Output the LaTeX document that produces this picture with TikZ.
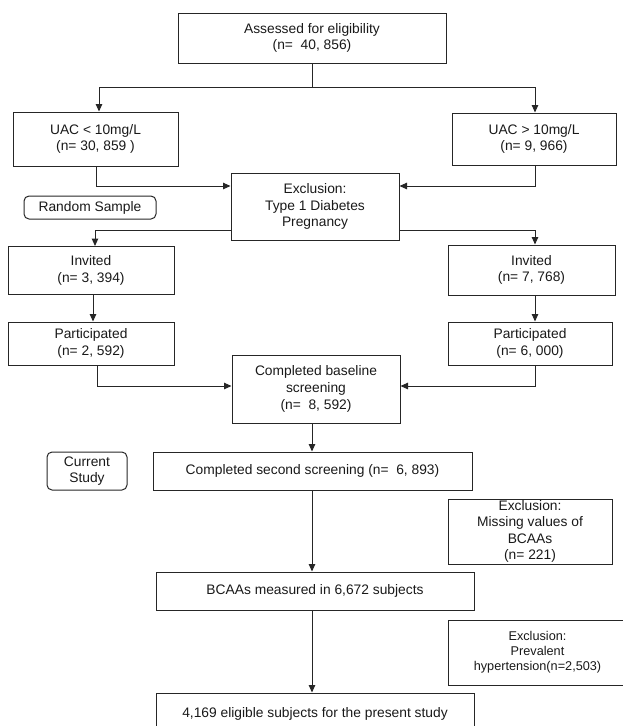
\documentclass[tikz,border=0pt]{standalone}
\usepackage{fontspec}
\setmainfont{Liberation Sans}
\usetikzlibrary{arrows.meta,calc}
\begin{document}
\begin{tikzpicture}[x=1pt,y=-1pt,
  box/.style={draw=black!85, line width=1pt, rectangle, inner sep=0pt, align=center,
    text=black!90, font=\fontsize{13.8}{16.6}\selectfont},
  rbox/.style={box, rounded corners=5pt},
  smallbox/.style={box, font=\fontsize{12.7}{15}\selectfont},
  ln/.style={draw=black!85, line width=1pt},
  arr/.style={ln, -{Triangle[length=7.5pt,width=6.5pt]}}]
\useasboundingbox (0,0) rectangle (622,726);

% boxes
\node[box, minimum width=268pt, minimum height=50pt] (top) at (312,38) {Assessed for eligibility\\(n=\ \ 40, 856)};
\node[box, minimum width=165pt, minimum height=54pt] (uacL) at (95.5,139) {UAC < 10mg/L\\(n= 30, 859 )};
\node[box, minimum width=164pt, minimum height=52pt] (uacR) at (534,139) {UAC > 10mg/L\\(n= 9, 966)};
\node[box, minimum width=168pt, minimum height=67pt] (excl) at (315,206.5) {Exclusion:\\Type 1 Diabetes\\Pregnancy};
\node[rbox, minimum width=132pt, minimum height=23pt] (rand) at (90,207.5) {Random Sample};
\node[box, minimum width=166pt, minimum height=48pt] (invL) at (91,270.5) {Invited\\(n= 3, 394)};
\node[box, minimum width=167pt, minimum height=50pt] (invR) at (531.5,270) {Invited\\(n= 7, 768)};
\node[box, minimum width=166pt, minimum height=43pt] (partL) at (91,343.5) {Participated\\(n= 2, 592)};
\node[box, minimum width=164pt, minimum height=43pt] (partR) at (530,343.5) {Participated\\(n= 6, 000)};
\node[box, minimum width=168pt, minimum height=68pt] (base) at (316,389) {Completed baseline\\screening\\(n=\ \ 8, 592)};
\node[rbox, minimum width=80pt, minimum height=38pt] (cur) at (87,471) {Current\\Study};
\node[box, minimum width=319pt, minimum height=38pt] (second) at (312.5,471) {Completed second screening (n=\ \ 6, 893)};
\node[box, minimum width=164pt, minimum height=65pt] (miss) at (530,531.5) {Exclusion:\\Missing values of\\BCAAs\\(n= 221)};
\node[box, minimum width=318pt, minimum height=38pt] (bcaa) at (315,591) {BCAAs measured in 6,672 subjects};
\node[smallbox, minimum width=179pt, minimum height=65pt] (hyp) at (537.5,652.5) {Exclusion:\\Prevalent\\hypertension(n=2,503)};
\node[box, minimum width=318pt, minimum height=42pt] (final) at (315,714) {4,169 eligible subjects for the present study};

% helper coordinates
\coordinate (split) at (312,87);
\coordinate (yin) at (0,186);
\coordinate (yout) at (0,230);
\coordinate (ybase) at (0,386);
\coordinate (sp) at (312,0);
\coordinate (xL) at (96,0);
\coordinate (xR) at (535,0);

% connectors
\draw[ln] (top.south) -- (split);
\draw[arr] (split) -| (uacL.north -| 99,0);
\draw[arr] (split) -| (uacR.north -| xR);
\draw[arr] (uacL.south -| xL) |- (excl.west |- yin);
\draw[arr] (uacR.south -| xR) |- (excl.east |- yin);
\draw[arr] (excl.west |- yout) -| (invL.north -| 95,0);
\draw[arr] (excl.east |- yout) -| (invR.north -| xR);
\draw[arr] (invL.south -| 93,0) -- (partL.north -| 93,0);
\draw[arr] (invR.south -| xR) -- (partR.north -| xR);
\draw[arr] (partL.south -| 97,0) |- (base.west |- ybase);
\draw[arr] (partR.south -| xR) |- (base.east |- ybase);
\draw[arr] (base.south -| sp) -- (second.north -| sp);
\draw[arr] (second.south -| sp) -- (bcaa.north -| sp);
\draw[arr] (bcaa.south -| sp) -- (final.north -| sp);
\end{tikzpicture}
\end{document}
